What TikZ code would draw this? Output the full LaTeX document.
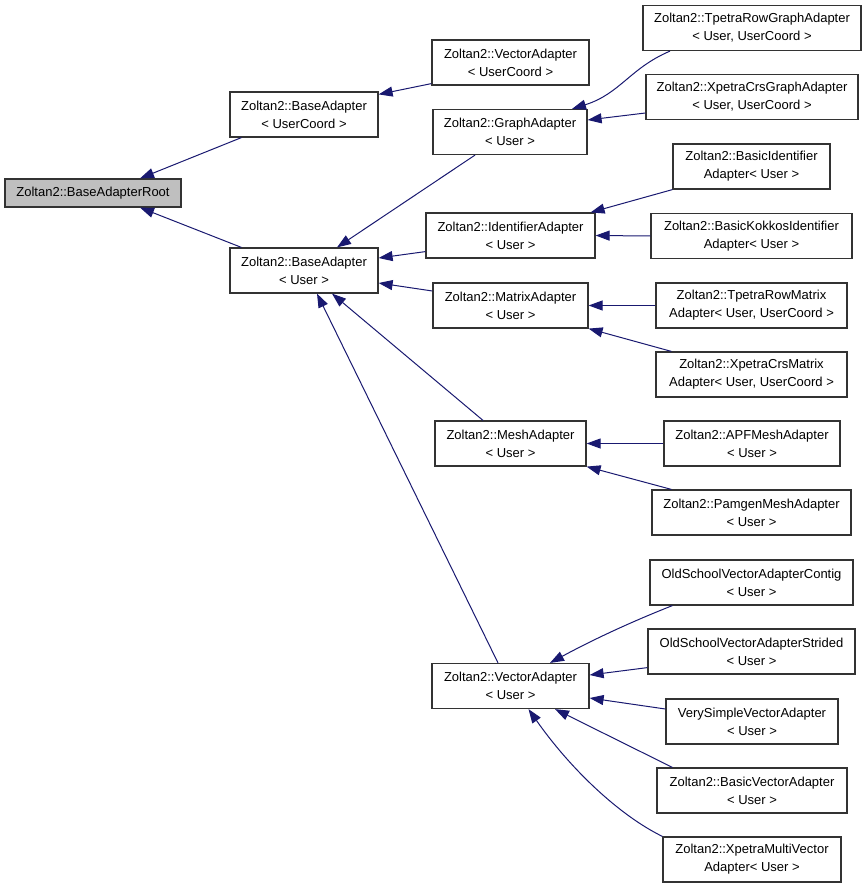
\documentclass[tikz,border=0pt]{standalone}
\usepackage{fontspec}
\setmainfont{Liberation Sans}
\usetikzlibrary{arrows.meta}
\definecolor{inhblue}{HTML}{191970}
\definecolor{rootgray}{HTML}{BFBFBF}
\tikzset{
  cls/.style={draw=black!80,line width=1.2pt,rectangle,minimum height=45pt,
    inner sep=0pt,align=center,font=\fontsize{13}{18}\selectfont},
  inh/.style={draw=inhblue,line width=1pt,-{Triangle[length=14pt,width=10pt]}},
}

\begin{document}
\begin{tikzpicture}[x=1pt,y=-1pt]
        \useasboundingbox (0,0) rectangle (867,888);

        \path
        (93,193) node[cls,fill=rootgray,minimum width=176pt,minimum height=28pt](root) {Zoltan2::BaseAdapterRoot}
        (304,114.5) node[cls,minimum width=148pt](bauc) {Zoltan2::BaseAdapter\\< UserCoord >}
        (304,270.5) node[cls,minimum width=148pt](bau) {Zoltan2::BaseAdapter\\< User >}
        ;
        \draw[inh] ([xshift=12pt]bauc.south west) -- ([xshift=47pt]root.north);
        \draw[inh] ([xshift=12pt]bau.north west) -- ([xshift=47pt]root.south);

        \path
        (510.5,62.5) node[cls,minimum width=157pt](vauc) {Zoltan2::VectorAdapter\\< UserCoord >}
        (510,132) node[cls,minimum width=154pt](graph) {Zoltan2::GraphAdapter\\< User >}
        (510.5,235.5) node[cls,minimum width=169pt](ident) {Zoltan2::IdentifierAdapter\\< User >}
        (510.5,305.5) node[cls,minimum width=155pt](matrix) {Zoltan2::MatrixAdapter\\< User >}
        (510.5,443.5) node[cls,minimum width=151pt](mesh) {Zoltan2::MeshAdapter\\< User >}
        (510.5,686) node[cls,minimum width=157pt](vau) {Zoltan2::VectorAdapter\\< User >}
        ;
        \draw[inh] ([yshift=2pt]vauc.south west) -- ([yshift=-3pt]bauc.north east);
        \draw[inh] ([xshift=-35pt]graph.south) -- ([xshift=33pt]bau.north);
        \draw[inh] ([yshift=7pt]ident.south west) -- ([yshift=12.5pt]bau.east);
        \draw[inh] ([yshift=14.5pt]matrix.west) -- ([yshift=-12.5pt]bau.east);
        \draw[inh] ([xshift=-27.5pt]mesh.north) -- ([xshift=28pt]bau.south);
        \draw[inh] ([xshift=-12.5pt]vau.north) -- ([xshift=13pt]bau.south);

        % graph and identifier adapters
        \path
        (752,28) node[cls,minimum width=218pt](tprg) {Zoltan2::TpetraRowGraphAdapter\\< User, UserCoord >}
        (752,97) node[cls,minimum width=212pt](xcrg) {Zoltan2::XpetraCrsGraphAdapter\\< User, UserCoord >}
        (751.5,166.5) node[cls,minimum width=157pt](bident) {Zoltan2::BasicIdentifier\\Adapter< User >}
        (751.5,236) node[cls,minimum width=201pt](bkid) {Zoltan2::BasicKokkosIdentifier\\Adapter< User >}
        ;
        \draw[inh] ([xshift=-82pt]tprg.south) .. controls +(-40,17) and +(48,-15) .. ([xshift=62pt]graph.north);
        \draw[inh] ([yshift=-16pt]xcrg.west) -- ([yshift=12pt]graph.east);
        \draw[inh] (bident.south west) -- ([xshift=-5pt]ident.north east);
        \draw[inh] (bkid.west) -- (ident.east);

        % matrix and mesh adapters
        \path
        (751.5,305.5) node[cls,minimum width=191pt](trm) {Zoltan2::TpetraRowMatrix\\Adapter< User, UserCoord >}
        (751.5,374.5) node[cls,minimum width=191pt](xcm) {Zoltan2::XpetraCrsMatrix\\Adapter< User, UserCoord >}
        (752,443.5) node[cls,minimum width=176pt](apf) {Zoltan2::APFMeshAdapter\\< User >}
        (751.5,512.5) node[cls,minimum width=199pt](pamgen) {Zoltan2::PamgenMeshAdapter\\< User >}
        ;
        \draw[inh] (trm.west) -- (matrix.east);
        \draw[inh] ([xshift=16pt]xcm.north west) -- (matrix.south east);
        \draw[inh] (apf.west) -- (mesh.east);
        \draw[inh] ([xshift=20pt]pamgen.north west) -- (mesh.south east);

        % vector adapters
        \path
        (751.5,582.5) node[cls,minimum width=203pt](osc) {OldSchoolVectorAdapterContig\\< User >}
        (751.5,651.5) node[cls,minimum width=207pt](oss) {OldSchoolVectorAdapterStrided\\< User >}
        (752,721.5) node[cls,minimum width=172pt](vsimple) {VerySimpleVectorAdapter\\< User >}
        (752,790.5) node[cls,minimum width=190pt](bva) {Zoltan2::BasicVectorAdapter\\< User >}
        (752,859.5) node[cls,minimum width=178pt](xmv) {Zoltan2::XpetraMultiVector\\Adapter< User >}
        ;
        \draw[inh] ([xshift=23pt]osc.south west) .. controls +(-33,13) and +(50,-27) .. ([xshift=39.5pt]vau.north);
        \draw[inh] ([yshift=7pt]oss.south west) -- ([yshift=11pt]vau.east);
        \draw[inh] ([yshift=12.5pt]vsimple.west) -- ([yshift=-12pt]vau.east);
        \draw[inh] ([xshift=16pt]bva.north west) -- ([xshift=44.5pt]vau.south);
        \draw[inh] (xmv.north west) .. controls +(-43,-21) and +(42,60) .. ([xshift=18pt]vau.south);
      \end{tikzpicture}
\end{document}
